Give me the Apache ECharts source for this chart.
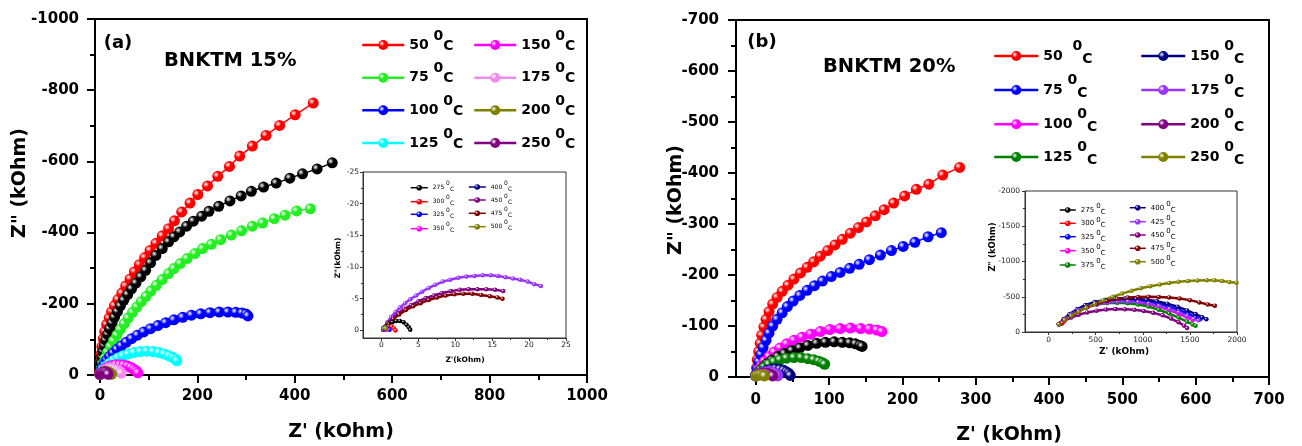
<!DOCTYPE html>
<html><head><meta charset="utf-8">
<script src="https://cdn.jsdelivr.net/npm/echarts@6/dist/echarts.min.js"></script>
<style>html,body{margin:0;padding:0;background:#fff}#c{width:1302px;height:446px}</style>
</head><body><div id="c"></div>
<script>
// ================= DATA =================
// Panel (a) BNKTM 15% main plot  [Z' (kOhm), Z'' (kOhm)]
const aRed50 = [[0,-3],[0,-15],[1,-36],[2,-58],[4,-80],[7,-102],[10,-122],[14,-142],[19,-160],[24,-178],[30,-195],[37,-212],[45,-230],[53,-250],[62,-270],[71,-290],[81,-310],[92,-330],[103,-350],[115,-370],[128,-391],[141,-411],[153,-433],[168,-458],[185,-483],[201,-507],[221,-531],[242,-558],[266,-586],[287,-615],[313,-643],[341,-673],[369,-701],[401,-731],[438,-764]];
const aBlack = [[0,-4],[1,-18],[2,-34],[4,-50],[6,-66],[9,-82],[12,-98],[16,-114],[20,-130],[25,-146],[30,-162],[36,-178],[42,-194],[49,-210],[57,-226],[65,-242],[74,-258],[84,-276],[94,-294],[104,-315],[115,-336],[128,-355],[141,-374],[152,-388],[164,-402],[178,-418],[192,-432],[209,-446],[224,-460],[244,-474],[267,-489],[290,-503],[311,-516],[336,-528],[362,-539],[390,-553],[416,-565],[446,-579],[477,-596]];
const aGreen75 = [[1,-6],[3,-18],[7,-33],[11,-48],[16,-64],[22,-80],[28,-96],[35,-112],[42,-128],[50,-144],[58,-160],[67,-176],[76,-191],[85,-206],[95,-221],[105,-236],[116,-252],[128,-268],[141,-285],[152,-299],[165,-313],[179,-327],[195,-341],[211,-355],[229,-367],[248,-380],[270,-393],[291,-405],[313,-418],[334,-427],[358,-439],[380,-449],[404,-461],[432,-467]];
const aBlue100 = [[0,-3],[2,-12],[5,-22],[9,-32],[14,-42],[20,-52],[27,-62],[35,-72],[44,-82],[54,-92],[65,-102],[77,-112],[90,-121],[104,-130],[119,-139],[135,-147],[152,-155],[170,-162],[188,-168],[207,-172],[226,-175],[245,-177],[263,-177],[279,-176],[292,-174],[300,-171],[304,-166]];
const aCyan125 = [[0,-2],[3,-9],[7,-17],[13,-25],[20,-33],[28,-41],[37,-48],[47,-54],[58,-59],[70,-63],[83,-66],[96,-67],[109,-66],[121,-63],[132,-59],[142,-54],[150,-49],[156,-44],[158,-40]];
const aMag150 = [[0,-2],[3,-7],[7,-13],[12,-19],[18,-24],[25,-27],[33,-29],[41,-29],[49,-28],[57,-25],[64,-21],[70,-16],[75,-11],[78,-6]];
const aPink175 = [[0,-2],[3,-6],[7,-11],[12,-15],[18,-18],[24,-19],[30,-17],[36,-14],[41,-10],[44,-5]];
const aOlive200 = [[0,-2],[3,-6],[7,-9],[11,-11],[15,-10],[19,-8],[22,-5],[24,-2]];
const aPurple250 = [[0,-2],[3,-5],[6,-8],[10,-9],[13,-8],[16,-5],[17,-2]];

// Panel (a) inset
const aiViolet = [[0.3,-0.4],[0.8,-1.3],[1.3,-2.1],[1.9,-2.9],[2.5,-3.6],[3.2,-4.3],[3.9,-4.9],[4.7,-5.5],[5.5,-6.1],[6.4,-6.7],[7.3,-7.2],[8.3,-7.7],[9.3,-8.0],[10.4,-8.3],[11.5,-8.5],[12.6,-8.6],[13.7,-8.7],[14.8,-8.7],[15.8,-8.6],[16.8,-8.4],[17.8,-8.2],[18.8,-8.0],[19.8,-7.7],[20.7,-7.3],[21.6,-7.0]];
const aiPurple450 = [[0.3,-0.4],[0.9,-1.2],[1.6,-2.0],[2.3,-2.7],[3.1,-3.4],[4.0,-4.0],[5.0,-4.6],[6.0,-5.1],[7.1,-5.5],[8.2,-5.9],[9.4,-6.2],[10.6,-6.4],[11.8,-6.5],[13.0,-6.5],[14.2,-6.5],[15.4,-6.4],[16.5,-6.2]];
const aiDarkred475 = [[0.3,-0.4],[0.9,-1.1],[1.6,-1.8],[2.4,-2.5],[3.3,-3.2],[4.3,-3.8],[5.3,-4.3],[6.4,-4.8],[7.5,-5.2],[8.7,-5.5],[9.9,-5.7],[11.1,-5.8],[12.3,-5.8],[13.5,-5.6],[14.7,-5.4],[15.7,-5.2],[16.4,-5.0]];
const aiBlack275 = [[0.3,-0.2],[0.6,-0.6],[1.0,-1.0],[1.5,-1.3],[2.0,-1.5],[2.5,-1.5],[3.0,-1.3],[3.4,-0.9],[3.7,-0.5],[3.9,-0.1]];
const aiRed300 = [[0.3,-0.1],[0.6,-0.4],[1.0,-0.6],[1.4,-0.6],[1.7,-0.3],[1.9,0]];
const aiBlue325 = [[0.3,-0.1],[0.6,-0.3],[0.9,-0.3],[1.1,-0.1]];
const aiMag350 = [[0.2,-0.1],[0.5,-0.2],[0.7,-0.1]];
const aiNavy400 = [[0.3,-0.2],[0.5,-0.3]];
const aiOlive500 = [[0.3,-0.3],[0.5,-0.4],[0.6,-0.3]];

// Panel (b) BNKTM 20% main plot
const bRed50 = [[0,-4],[1,-18],[2,-34],[4,-50],[6,-66],[8,-82],[11,-98],[14,-113],[18,-128],[23,-143],[29,-156],[36,-168],[44,-180],[52,-192],[61,-204],[70,-215],[79,-226],[88,-237],[98,-248],[108,-259],[118,-270],[129,-282],[140,-293],[151,-304],[163,-316],[175,-328],[188,-341],[203,-355],[219,-368],[236,-378],[255,-396],[278,-411]];
const bBlue75 = [[0,-4],[2,-16],[4,-30],[7,-44],[10,-58],[14,-72],[18,-86],[23,-100],[29,-113],[36,-126],[43,-138],[51,-149],[60,-160],[70,-170],[80,-179],[91,-188],[103,-197],[115,-205],[128,-213],[141,-221],[155,-230],[170,-239],[185,-248],[201,-256],[217,-264],[235,-275],[253,-283]];
const bMag100 = [[0,-3],[3,-11],[7,-21],[12,-31],[18,-40],[25,-49],[33,-57],[42,-65],[52,-72],[63,-78],[75,-84],[88,-89],[101,-93],[115,-95],[129,-96],[143,-95],[155,-94],[165,-92],[172,-89]];
const bBlack = [[0,-3],[4,-10],[9,-18],[15,-26],[22,-33],[30,-40],[39,-46],[49,-52],[60,-57],[71,-62],[83,-66],[95,-68],[107,-69],[118,-68],[128,-67],[136,-65],[142,-62],[145,-60]];
const bGreen125 = [[0,-2],[3,-7],[7,-13],[12,-19],[18,-25],[25,-30],[33,-34],[42,-37],[52,-38],[62,-38],[71,-36],[79,-34],[86,-31],[91,-28],[94,-25]];
const bNavy150 = [[0,-2],[4,-6],[9,-10],[15,-13],[21,-15],[27,-16],[33,-15],[38,-13],[42,-10],[45,-7],[47,-3]];
const bViolet175 = [[0,-2],[3,-5],[7,-8],[12,-10],[17,-11],[22,-10],[26,-8],[29,-5],[30,-2]];
const bPurple200 = [[0,-2],[3,-5],[7,-7],[11,-8],[15,-8],[19,-6],[22,-4],[23,-2]];
const bOlive250 = [[0,-2],[2,-3],[5,-4],[8,-4],[11,-3],[12,-2]];

// Panel (b) inset
const biBlack275 = [[110,-110],[125,-120],[140,-122]];
const biRed300 = [[110,-110],[130,-125],[150,-130]];
const biMag350 = [[110,-110],[170,-178],[240,-246],[320,-305],[410,-354],[510,-388],[620,-410],[730,-420],[840,-420],[950,-410],[1060,-390],[1170,-356],[1280,-310],[1380,-258],[1470,-205],[1530,-170]];
const biBlue325 = [[110,-110],[165,-185],[230,-255],[310,-322],[400,-378],[500,-418],[610,-444],[720,-456],[830,-458],[940,-450],[1050,-432],[1160,-404],[1270,-364],[1380,-314],[1480,-258],[1560,-210],[1610,-180]];
const biGreen375 = [[110,-110],[170,-180],[240,-250],[320,-310],[410,-360],[510,-394],[620,-410],[730,-414],[840,-408],[950,-390],[1060,-360],[1170,-316],[1280,-262],[1380,-204],[1470,-146],[1530,-108],[1560,-90]];
const biNavy400 = [[110,-110],[160,-180],[220,-250],[300,-320],[390,-380],[490,-425],[600,-455],[710,-470],[820,-474],[930,-470],[1040,-458],[1150,-436],[1260,-402],[1370,-358],[1470,-306],[1560,-254],[1630,-210],[1675,-180]];
const biViolet425 = [[110,-110],[170,-180],[240,-250],[320,-310],[410,-360],[510,-396],[620,-420],[730,-432],[840,-434],[950,-426],[1060,-406],[1170,-374],[1280,-330],[1380,-280],[1470,-228],[1540,-188],[1590,-165]];
const biPurple450 = [[110,-110],[170,-160],[240,-205],[320,-245],[410,-278],[510,-302],[610,-318],[710,-325],[810,-324],[910,-315],[1010,-298],[1110,-272],[1210,-236],[1300,-190],[1380,-138],[1440,-90],[1470,-55]];
const biDarkred475 = [[110,-110],[170,-170],[240,-235],[320,-295],[410,-350],[510,-400],[620,-440],[730,-470],[840,-488],[950,-497],[1060,-500],[1170,-498],[1280,-490],[1390,-475],[1500,-452],[1600,-420],[1690,-390],[1765,-373]];
const biOlive500 = [[110,-110],[170,-170],[240,-230],[320,-290],[400,-345],[490,-400],[580,-450],[680,-500],[780,-545],[880,-585],[980,-620],[1080,-650],[1180,-675],[1280,-695],[1380,-712],[1480,-724],[1580,-731],[1680,-735],[1760,-733],[1840,-722],[1920,-708],[1995,-700]];

// Tick labels
const aXTicks = [0,200,400,600,800,1000];
const aXMinor = [100,300,500,700,900];
const aYTicks = [-1000,-800,-600,-400,-200,0];
const aYMinor = [-900,-700,-500,-300,-100];
const bXTicks = [0,100,200,300,400,500,600,700];
const bXMinor = [50,150,250,350,450,550,650];
const bYTicks = [-700,-600,-500,-400,-300,-200,-100,0];
const bYMinor = [-650,-550,-450,-350,-250,-150,-50];
const aiXTicks = [0,5,10,15,20,25];
const aiXMinor = [2.5,7.5,12.5,17.5,22.5];
const aiYTicks = [-25,-20,-15,-10,-5,0];
const aiYMinor = [-22.5,-17.5,-12.5,-7.5,-2.5];
const biXTicks = [0,500,1000,1500,2000];
const biXMinor = [250,750,1250,1750];
const biYTicks = [-2000,-1500,-1000,-500,0];
const biYMinor = [-1750,-1250,-750,-250];

// ================= STYLE / BUILD =================
const COL = {red:'#ff0000', green:'#22ee22', blue:'#0000ff', cyan:'#00ffff', magenta:'#ff00ff', pink:'#f08cf0',
  olive:'#808000', purple:'#800080', black:'#000000', violet:'#9933ff', darkred:'#800000', navy:'#000080', dgreen:'#008000'};
function ball(c){ return {type:'radial', x:0.35, y:0.35, r:0.7, colorStops:[{offset:0,color:'#ffffff'},{offset:0.4,color:c},{offset:1,color:c}]}; }
const FONT = 'DejaVu Sans';

const xAxes = [], yAxes = [], minorX = [], minorY = [];
function makeAxis(o){
  const common = {type:'value', gridIndex:o.g, min:o.min, max:o.max, inverse:!!o.inv, position:o.pos, splitLine:{show:false}, splitArea:{show:false}};
  const main = Object.assign({}, common, {
    axisLine:{show:true, onZero:false, lineStyle:{color:o.color, width:o.lw}},
    axisTick:{show:true, inside:false, length:o.tl, customValues:o.ticks, lineStyle:{color:o.color, width:o.lw}},
    axisLabel:{show:true, customValues:o.ticks, margin:o.margin, formatter:v=>String(v), fontFamily:FONT, fontWeight:o.fw, fontSize:o.fs, color:o.tc}
  });
  const minor = Object.assign({}, common, {
    axisLine:{show:false, onZero:false}, axisLabel:{show:false},
    axisTick:{show:true, inside:false, length:o.ml, customValues:o.minors, lineStyle:{color:o.color, width:o.lw}}
  });
  return [main, minor];
}
const bigStyle = {color:'#000', lw:2, tl:8, ml:5, fw:'bold', fs:15, tc:'#000'};
const smallStyle = {color:'#333', lw:1, tl:3, ml:2, fw:'normal', fs:7.5, tc:'#222'};
const axDefs = [
  [Object.assign({g:0,min:-10,max:1000,pos:'bottom',ticks:aXTicks,minors:aXMinor,margin:14},bigStyle),
   Object.assign({g:0,min:-1000,max:0,inv:true,pos:'left',ticks:aYTicks,minors:aYMinor,margin:16},bigStyle)],
  [Object.assign({g:1,min:-2.5,max:25,pos:'bottom',ticks:aiXTicks,minors:aiXMinor,margin:3},smallStyle),
   Object.assign({g:1,min:-25,max:1.2,inv:true,pos:'left',ticks:aiYTicks,minors:aiYMinor,margin:4},smallStyle)],
  [Object.assign({g:2,min:-27,max:700,pos:'bottom',ticks:bXTicks,minors:bXMinor,margin:16},bigStyle),
   Object.assign({g:2,min:-700,max:0,inv:true,pos:'left',ticks:bYTicks,minors:bYMinor,margin:17},bigStyle)],
  [Object.assign({g:3,min:-250,max:2000,pos:'bottom',ticks:biXTicks,minors:biXMinor,margin:4},smallStyle),
   Object.assign({g:3,min:-2000,max:0,inv:true,pos:'left',ticks:biYTicks,minors:biYMinor,margin:5},smallStyle)]
];
axDefs.forEach(([xd, yd])=>{
  const [xm, xn] = makeAxis(xd); const [ym, yn] = makeAxis(yd);
  xAxes.push(xm); yAxes.push(ym); minorX.push(xn); minorY.push(yn);
});

const series = [];
function add(name, data, color, idx, size, lw){
  series.push({type:'line', name, data, xAxisIndex:idx, yAxisIndex:idx, symbol:'circle', symbolSize:size,
    showSymbol:true, showAllSymbol:true, clip:false, smooth:false,
    lineStyle:{color, width:lw}, itemStyle:{color:ball(color), borderWidth:0},
    emphasis:{disabled:true}, silent:true});
}
// (a) main
add('A50', aRed50, COL.red, 0, 11, 1.5);
add('A225', aBlack, COL.black, 0, 11, 1.5);
add('A75', aGreen75, COL.green, 0, 11, 1.5);
add('A100', aBlue100, COL.blue, 0, 11, 7);
add('A125', aCyan125, COL.cyan, 0, 11, 7);
add('A150', aMag150, COL.magenta, 0, 11, 7);
add('A175', aPink175, COL.pink, 0, 11, 7);
add('A200', aOlive200, COL.olive, 0, 11, 7);
add('A250', aPurple250, COL.purple, 0, 11, 7);
// (a) inset
add('AI425', aiViolet, COL.violet, 1, 4.5, 2.5);
add('AI450', aiPurple450, COL.purple, 1, 4.5, 2.5);
add('AI475', aiDarkred475, COL.darkred, 1, 4.5, 2.5);
add('AI275', aiBlack275, COL.black, 1, 4.5, 2.5);
add('AI300', aiRed300, COL.red, 1, 4.5, 2.5);
add('AI325', aiBlue325, COL.blue, 1, 4.5, 2.5);
add('AI350', aiMag350, COL.magenta, 1, 4.5, 2.5);
add('AI400', aiNavy400, COL.navy, 1, 4.5, 2.5);
add('AI500', aiOlive500, COL.olive, 1, 4.5, 2.5);
// (b) main
add('B50', bRed50, COL.red, 2, 11, 1.5);
add('B75', bBlue75, COL.blue, 2, 11, 1.5);
add('B100', bMag100, COL.magenta, 2, 11, 7);
add('B225', bBlack, COL.black, 2, 11, 7);
add('B125', bGreen125, COL.dgreen, 2, 11, 7);
add('B150', bNavy150, COL.navy, 2, 11, 7);
add('B175', bViolet175, COL.violet, 2, 11, 7);
add('B200', bPurple200, COL.purple, 2, 11, 7);
add('B250', bOlive250, COL.olive, 2, 11, 7);
// (b) inset
add('BI275', biBlack275, COL.black, 3, 4.5, 2.5);
add('BI300', biRed300, COL.red, 3, 4.5, 2.5);
add('BI350', biMag350, COL.magenta, 3, 4.5, 2.5);
add('BI325', biBlue325, COL.blue, 3, 4.5, 2.5);
add('BI375', biGreen375, COL.dgreen, 3, 4.5, 2.5);
add('BI400', biNavy400, COL.navy, 3, 4.5, 2.5);
add('BI425', biViolet425, COL.violet, 3, 4.5, 2.5);
add('BI450', biPurple450, COL.purple, 3, 4.5, 2.5);
add('BI475', biDarkred475, COL.darkred, 3, 4.5, 2.5);
add('BI500', biOlive500, COL.olive, 3, 4.5, 2.5);

// legend labels
function lbl(name){ const t = name.replace(/^[A-Z]+/, ''); const sp = (name === 'B50') ? '  ' : ' '; return '{n|' + t + sp + '}{s|0}{c|C}'; }
function rich(fs, fw, L, lhS, padC){
  const base = {fontFamily:FONT, fontWeight:fw, fontSize:fs, color:'#000'};
  return {n:Object.assign({}, base, {lineHeight:L, verticalAlign:'middle'}),
          s:Object.assign({}, base, {lineHeight:lhS, verticalAlign:'top'}),
          c:Object.assign({}, base, {lineHeight:L, verticalAlign:'middle', padding:[padC,0,0,0]})};
}
const richA = rich(14, 'bold', 32, 14, 2);
const richB = rich(14, 'bold', 34, 14, 6);
const richAI = rich(6, 'normal', 14, 6, 4);
const richBI = rich(7, 'normal', 14, 7, 4);
const legends = [];
// one legend component per entry so each row sits at its own measured height
function legendCol(left, tops, names, r, iw, ih, lw){
  names.forEach((nm, i)=>{
    legends.push({orient:'vertical', left, top:tops[i], padding:0, itemGap:0, itemWidth:iw, itemHeight:ih, selectedMode:false,
      data:[nm], formatter:lbl, textStyle:{rich:r, fontFamily:FONT}, lineStyle:{width:lw}});
  });
}
legendCol(361, [29,61.7,94.3,127], ['A50','A75','A100','A125'], richA, 42, 12.5, 2.5);
legendCol(473, [29,61.7,94.3,127], ['A150','A175','A200','A250'], richA, 42, 12.5, 2.5);
legendCol(993, [39,73,107.3,140], ['B50','B75','B100','B125'], richB, 44, 12.5, 2.5);
legendCol(1140, [39,73,107.3,140], ['B150','B175','B200','B250'], richB, 44, 12.5, 2.5);
legendCol(410, [180.7,194.7,207.3,221.7], ['AI275','AI300','AI325','AI350'], richAI, 17, 7, 1.5);
legendCol(468, [180,193,206.3,219.7], ['AI400','AI450','AI475','AI500'], richAI, 17, 7, 1.5);
legendCol(1059, [203,216.3,229.7,243.7,258], ['BI275','BI300','BI325','BI350','BI375'], richBI, 16, 7, 1.5);
legendCol(1129, [200.7,214.7,228,241.3,254.7], ['BI400','BI425','BI450','BI475','BI500'], richBI, 16, 7, 1.5);

function txt(x, y, text, font, align, rot){
  return {type:'text', x, y, rotation:rot||0, z:100, silent:true,
    style:{text, font, fill:'#000', textAlign:align||'center', textVerticalAlign:'middle'}};
}
const graphics = [
  txt(118, 43, '(a)', 'bold 18px "DejaVu Sans"'),
  txt(164, 61, 'BNKTM 15%', 'bold 19.5px "DejaVu Sans"', 'left'),
  txt(762, 42, '(b)', 'bold 18px "DejaVu Sans"'),
  txt(823, 67, 'BNKTM 20%', 'bold 19.5px "DejaVu Sans"', 'left'),
  txt(341, 432, "Z' (kOhm)", 'bold 19px "DejaVu Sans"'),
  txt(1009, 435, "Z' (kOhm)", 'bold 19px "DejaVu Sans"'),
  txt(20, 183, 'Z" (kOhm)', 'bold 19px "DejaVu Sans"', 'center', Math.PI/2),
  txt(676, 200, 'Z" (kOhm)', 'bold 19px "DejaVu Sans"', 'center', Math.PI/2),
  txt(465, 360, "Z'(kOhm)", 'bold 7.5px "DejaVu Sans"'),
  txt(338, 258, 'Z"(kOhm)', 'bold 7.5px "DejaVu Sans"', 'center', Math.PI/2),
  txt(1124, 352, "Z' (kOhm)", 'bold 9px "DejaVu Sans"'),
  txt(993, 247, 'Z" (kOhm)', 'bold 8.5px "DejaVu Sans"', 'center', Math.PI/2)
];

const grids = [
  {left:95, top:19, width:492, height:356, show:true, borderColor:'#000', borderWidth:2, backgroundColor:'transparent', outerBoundsMode:'none', containLabel:false},
  {left:363, top:172, width:203, height:166, show:true, borderColor:'#333', borderWidth:1, backgroundColor:'#fff', outerBoundsMode:'none', containLabel:false},
  {left:736, top:20, width:533, height:357, show:true, borderColor:'#000', borderWidth:2, backgroundColor:'transparent', outerBoundsMode:'none', containLabel:false},
  {left:1025, top:191, width:212, height:141, show:true, borderColor:'#333', borderWidth:1, backgroundColor:'#fff', outerBoundsMode:'none', containLabel:false}
];

const chart = echarts.init(document.getElementById('c'), null, {renderer:'canvas'});
chart.setOption({
  animation:false,
  backgroundColor:'#fff',
  grid:grids,
  xAxis:xAxes.concat(minorX),
  yAxis:yAxes.concat(minorY),
  legend:legends,
  series,
  graphic:graphics
});
</script></body></html>
